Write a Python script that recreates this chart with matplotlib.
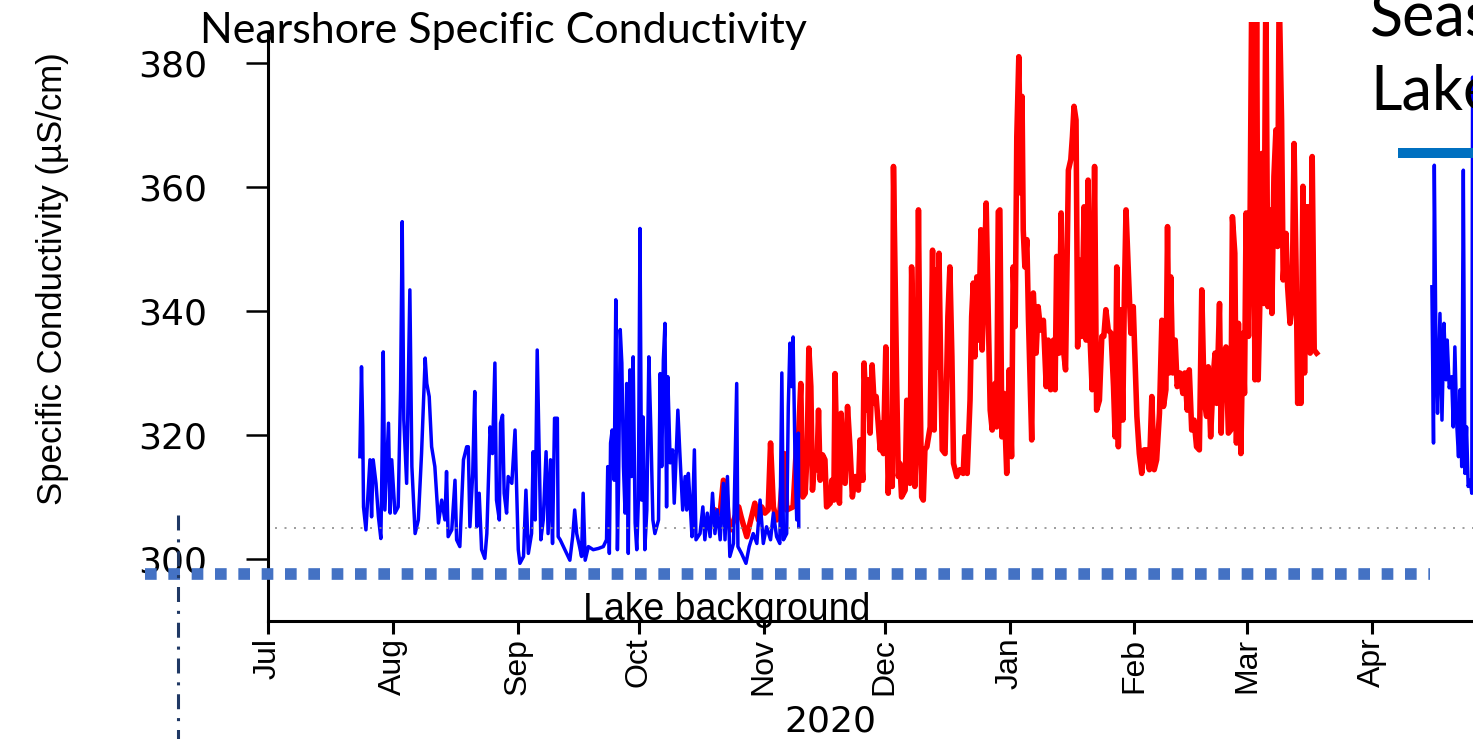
import matplotlib
matplotlib.use("Agg")
import matplotlib.pyplot as plt
import matplotlib.dates as mdates
import matplotlib.transforms as mtransforms
from matplotlib.lines import Line2D
import pandas as pd

# days since 1 Jul 2020, values in uS/cm
blue1_day = [22.8, 23.2, 23.5, 23.7, 24.3, 25.3, 25.7, 26.1, 26.8, 27.4,
             28.0, 28.2, 28.6, 29.0, 29.9, 30.3, 30.7, 31.5, 32.3, 32.9,
             33.3, 33.7, 34.4, 34.8, 35.2, 35.7, 36.5, 37.3, 38.1, 39.0,
             39.4, 40.0, 40.6, 41.4, 42.3, 43.1, 43.9, 44.3, 44.7, 45.6,
             46.4, 46.8, 47.6, 48.5, 49.3, 49.7, 50.1, 50.8, 51.3, 51.8,
             52.4, 53.0, 53.8, 54.3, 55.1, 55.7, 56.3, 56.7, 57.4, 57.7,
             58.2, 58.6, 59.2, 59.6, 60.5, 61.3, 62.1, 62.5, 63.4, 64.0,
             64.6, 65.4, 65.8, 66.3, 66.8, 67.2, 67.7, 68.3, 69.0, 69.5,
             70.1, 70.6, 71.1, 71.8, 72.0,
             72.5, 74.1, 74.9, 75.6, 76.1, 76.6, 77.3, 77.8, 78.2, 78.7,
             79.5, 80.7, 82.0, 83.2, 84.0, 84.3, 84.7, 85.0, 85.4, 85.9,
             86.3, 86.7, 87.0, 87.4, 87.8, 88.2, 88.6, 89.0, 89.4, 89.8,
             90.2, 90.6, 91.1, 91.5, 91.9, 92.3, 92.7, 93.1, 93.5, 94.0,
             94.5, 95.0, 95.5, 96.0, 96.9, 97.3, 97.7, 98.1, 98.5, 98.9,
             99.2, 99.8, 100.4, 100.8, 101.3, 101.7, 102.2, 102.9, 103.5, 103.9,
             104.3, 104.7, 105.2, 105.8, 106.2, 107.2, 107.9, 108.4, 109.0, 109.7,
             110.3, 110.9, 111.5, 112.2, 113.0, 113.4, 114.0, 114.6, 115.5, 116.3,
             116.6, 117.5, 118.6, 119.4, 120.4, 121.3, 122.1, 122.9, 123.7, 124.7,
             125.4, 126.2, 127.0, 127.5, 127.9, 128.7, 129.1, 129.5, 129.9, 130.3,
             130.8, 131.2, 131.6, 131.7]
blue1_val = [316.5, 331.0, 321.3, 308.4, 304.7, 316.0, 306.8, 316.0, 312.2, 306.8,
             303.3, 311.1, 333.4, 307.9, 321.9, 307.4, 316.0, 307.4, 308.4, 327.3,
             354.4, 322.4, 312.2, 327.8, 343.4, 314.9, 304.1, 306.3, 317.0, 332.4,
             328.3, 326.2, 318.1, 314.9, 305.8, 309.5, 306.3, 314.1, 303.6, 304.7,
             312.7, 303.1, 302.0, 316.0, 318.1, 318.1, 305.2, 313.8, 327.0, 305.2,
             310.6, 301.5, 300.1, 304.1, 321.3, 317.0, 331.6, 309.5, 306.3, 321.9,
             323.2, 310.6, 307.4, 313.3, 312.2, 320.8, 301.5, 299.3, 300.4, 311.1,
             300.9, 304.1, 317.3, 306.3, 333.7, 319.7, 303.1, 306.3, 317.3, 304.1,
             316.0, 302.5, 322.7, 322.7, 303.6,
             303.1, 300.9, 299.8, 303.6, 307.9, 304.1, 302.0, 300.4, 310.6, 299.8,
             302.0, 301.5, 301.7, 302.0, 303.1, 314.9, 300.9, 318.7, 320.8, 312.7,
             341.8, 301.5, 312.7, 337.0, 331.6, 314.9, 307.4, 328.3, 300.9, 330.5,
             313.3, 332.6, 305.8, 301.5, 309.5, 353.3, 309.5, 322.9, 301.5, 307.9,
             332.6, 320.8, 306.3, 304.1, 306.3, 329.9, 314.9, 332.1, 338.0, 308.4,
             329.4, 315.5, 317.6, 309.0, 317.0, 324.0, 317.0, 307.9, 313.3, 307.9,
             313.8, 309.5, 303.6, 317.6, 303.1, 304.1, 308.4, 303.1, 307.4, 303.6,
             310.6, 304.1, 307.9, 303.1, 312.2, 303.1, 313.3, 300.4, 302.5, 328.3,
             302.0, 300.9, 299.3, 302.0, 304.1, 302.5, 309.5, 302.5, 305.2, 303.1,
             307.4, 303.6, 302.5, 330.0, 303.1, 304.1, 324.5, 334.8, 327.8, 335.8,
             314.9, 306.3, 320.3, 305.2]

red_day = [110.9, 112.2, 113.0, 113.5, 114.2, 114.8, 115.6, 116.8, 117.4, 118.8,
           120.0, 120.8, 121.7, 122.5, 123.3, 124.1, 124.7, 125.4, 126.2, 127.0,
           128.1, 128.7, 130.3, 131.3,
           131.6, 132.2, 132.7, 133.3, 133.8, 134.2, 134.7, 135.1, 135.7, 136.2,
           136.6, 137.0, 137.6, 138.2, 138.6, 139.5, 139.9, 140.4, 140.7, 141.3,
           141.8, 142.2, 142.8, 143.2, 143.8, 144.4, 145.0, 145.7, 146.5, 146.9,
           147.6, 147.9, 148.4, 149.0, 149.4, 149.9, 150.4, 150.9, 151.4, 151.9,
           152.3, 152.7, 153.3, 153.9, 154.3, 154.9, 155.2, 155.6, 156.0, 156.4,
           156.8, 157.2, 158.1, 158.5, 158.9, 159.3, 159.7, 160.1, 160.5, 161.0,
           161.4, 161.8, 162.2, 162.6, 163.0, 163.5, 164.3, 164.9, 165.3, 165.8,
           166.2, 166.5, 166.9, 167.3, 168.0, 168.7, 169.2, 169.7, 170.1, 170.9,
           171.7, 172.5, 172.9, 173.5, 174.2, 174.6, 175.0, 175.4, 175.9, 176.3,
           176.9, 177.2, 177.7, 178.2, 178.7, 179.2, 179.7, 180.4, 180.8, 181.2,
           181.6, 182.1, 182.6, 183.3, 183.9, 184.5, 184.9, 185.4, 185.8, 186.3,
           186.8, 187.1, 187.4, 187.8, 188.3, 188.7, 189.5, 189.9, 190.6, 191.1,
           191.7, 192.4, 193.1, 193.6, 194.2, 194.9, 195.3, 195.7, 196.3, 196.8,
           197.3, 197.9, 198.6, 199.2, 199.6, 200.0, 200.5, 200.9, 201.3, 201.9,
           202.5, 203.0, 203.5, 204.0, 204.5, 205.1, 205.6, 206.3, 206.9, 207.4,
           207.9, 208.5, 209.2, 209.8, 210.2, 210.6, 211.0, 211.6, 212.1, 212.5,
           212.9, 213.5, 214.1, 214.7, 215.6, 216.2, 216.8, 217.4, 218.0, 218.7,
           219.3, 219.9, 220.5, 221.2, 221.8, 222.2, 222.8, 223.2, 223.6, 224.0,
           224.5, 225.1, 225.6, 226.3, 227.0, 227.5, 228.1, 228.6, 229.2, 229.8,
           230.4, 231.1, 231.7, 232.3, 232.9, 233.3, 233.9, 234.6, 235.0, 235.4,
           236.1, 236.5, 237.0, 237.7, 238.3, 238.9, 239.3, 239.9, 240.3, 240.8,
           241.4, 241.9, 242.3, 242.7, 243.3, 243.7, 244.1, 244.5, 244.9, 245.3,
           245.7, 246.2, 246.6, 247.1, 247.6, 248.1, 248.5, 249.1, 249.6, 250.1,
           250.5, 250.9, 251.5, 251.9, 252.6, 253.0, 253.6, 254.1, 254.6, 255.1,
           255.5, 255.9, 256.3, 256.8, 257.2, 257.6, 258.1, 258.6, 259.1, 259.6,
           260.2]
red_val = [307.9, 307.4, 312.7, 312.2, 306.3, 304.7, 306.3, 308.4, 306.8, 303.6,
           306.8, 309.0, 306.3, 308.4, 307.4, 307.9, 318.7, 308.4, 306.3, 307.4,
           317.0, 307.9, 308.4, 320.3,
           319.2, 328.3, 310.0, 310.6, 317.6, 334.0, 327.8, 311.1, 316.5, 314.4,
           324.0, 312.7, 316.8, 316.0, 308.4, 309.0, 312.7, 309.5, 329.9, 312.2,
           309.0, 323.5, 313.3, 312.2, 324.6, 318.1, 310.0, 313.3, 311.1, 319.2,
           312.7, 331.6, 324.0, 328.9, 320.3, 331.3, 325.1, 326.2, 321.9, 317.6,
           321.9, 317.0, 334.2, 310.6, 318.7, 311.7, 363.3, 345.5, 328.3, 313.3,
           315.4, 310.0, 311.1, 325.6, 316.0, 312.2, 347.1, 334.8, 311.7, 320.3,
           356.3, 328.3, 310.0, 309.5, 317.6, 318.1, 321.3, 349.8, 320.8, 346.6,
           331.0, 349.3, 331.6, 317.6, 317.0, 339.1, 347.1, 332.6, 315.4, 313.3,
           314.4, 313.8, 319.7, 313.8, 325.6, 339.1, 344.5, 332.6, 345.5, 335.3,
           353.1, 333.7, 344.5, 357.4, 340.2, 324.0, 320.8, 328.3, 321.3, 356.0,
           356.3, 319.7, 326.7, 313.8, 330.5, 316.5, 347.1, 337.5, 368.1, 381.0,
           359.0, 374.6, 353.1, 347.1, 351.5, 338.5, 319.2, 342.9, 333.2, 340.7,
           336.9, 338.5, 327.8, 335.3, 327.3, 335.3, 327.3, 348.8, 333.2, 355.8,
           334.2, 330.5, 362.7, 364.4, 368.1, 373.0, 370.8, 334.2, 348.2, 335.9,
           356.8, 335.3, 361.1, 335.3, 327.3, 363.3, 324.0, 325.6, 335.9, 335.9,
           340.2, 336.9, 336.4, 327.8, 319.7, 347.1, 318.1, 340.2, 322.4, 342.9,
           356.3, 346.1, 336.4, 340.7, 323.0, 317.0, 313.8, 317.6, 317.6, 314.4,
           326.2, 314.4, 316.0, 323.5, 338.5, 324.6, 327.3, 353.6, 330.0, 345.5,
           330.0, 335.3, 327.8, 330.0, 326.7, 330.0, 324.0, 330.5, 320.8, 322.4,
           318.1, 317.6, 343.4, 325.6, 323.0, 331.0, 319.7, 330.0, 333.2, 325.1,
           341.2, 320.3, 332.6, 334.2, 320.3, 320.8, 355.2, 349.3, 318.7, 338.0,
           317.0, 336.4, 326.7, 355.8, 335.9, 355.8, 392.0, 368.1, 328.9, 392.0,
           328.9, 343.9, 365.4, 341.2, 392.0, 340.7, 356.3, 339.6, 361.7, 369.2,
           350.4, 392.0, 370.8, 345.0, 352.5, 343.9, 338.0, 340.7, 367.0, 347.1,
           325.1, 335.9, 325.1, 360.1, 330.0, 356.8, 356.8, 333.2, 364.9, 333.7,
           333.2]

blue2_day = [288.8, 289.2, 289.4, 289.8, 290.2, 290.8, 291.3, 291.8, 292.3, 292.6,
             293.1, 293.7, 294.1, 294.5, 295.0, 295.4, 295.8, 296.2, 296.6, 297.0,
             297.4, 297.8, 298.3, 298.7, 298.9, 299.3]
blue2_val = [343.9, 318.7, 363.5, 334.2, 323.5, 339.6, 322.4, 338.0, 328.9, 335.3,
             327.6, 329.4, 321.3, 334.2, 321.3, 316.5, 327.3, 314.9, 362.7, 313.8,
             321.3, 311.7, 312.7, 310.6, 377.7, 330.0]

lake_background = 297.6
reference_level = 305.0
yticks = [300, 320, 340, 360, 380]

start = pd.Timestamp("2020-07-01")
def to_dates(days):
    return start + pd.to_timedelta(days, unit="D")

W, H = 1473, 739
fig = plt.figure(figsize=(W / 100, H / 100), dpi=100)
ax = fig.add_axes([268 / W, 118 / H, 1205 / W, 599 / H])

narrow = ["Liberation Sans Narrow", "Liberation Sans", "DejaVu Sans"]

ax.plot(to_dates(red_day), red_val, color="#ff0000", lw=4.0)
ax.plot(to_dates(blue1_day), blue1_val, color="#0000ff", lw=2.5)
ax.plot(to_dates(blue2_day), blue2_val, color="#0000ff", lw=2.5)

ax.axhline(reference_level, xmin=0.006, color="#8c8c8c", lw=1.2, ls=(0, (1.2, 4.5)))

blend = mtransforms.blended_transform_factory(ax.transAxes, ax.transData)
ax.plot([-0.102, 0.964], [lake_background, lake_background], transform=blend,
        clip_on=False, color="#4472c4", lw=8.4, ls=(0, (1, 1)),
        dash_capstyle="butt", zorder=5)

ax.set_xlim(start, start + pd.Timedelta(days=299.0))
ax.set_ylim(290, 386.6)

ax.xaxis.set_major_locator(mdates.MonthLocator())
ax.xaxis.set_major_formatter(mdates.DateFormatter("%b"))
ax.set_yticks(yticks)

for s in ["top", "right"]:
    ax.spines[s].set_visible(False)
for s in ["left", "bottom"]:
    ax.spines[s].set_linewidth(2.2)
ax.spines["left"].set_bounds(290, 384.8)

ax.tick_params(axis="y", direction="out", length=16, width=1.8, pad=28,
               labelsize=26, labelfontfamily="DejaVu Sans")
ax.tick_params(axis="x", direction="out", length=9, width=2.2, pad=3,
               labelsize=23, labelrotation=90, labelfontfamily=narrow)

ax.set_ylabel("Specific Conductivity (\u00b5S/cm)", fontsize=25,
              family=narrow, va="center")
ax.yaxis.set_label_coords(-0.179, 0.571)

fig.text(200 / W, 1 - 43 / H, "Nearshore Specific Conductivity",
         fontsize=31, family="Lato", va="baseline")
fig.text(583 / W, 1 - 620 / H, "Lake background", fontsize=27,
         family="Liberation Sans", va="baseline")
fig.text(830 / W, 1 - 721 / H, "2020", fontsize=26, family="DejaVu Sans",
         ha="center", va="center")
fig.text(1370 / W, 1 - 35 / H, "Seasonal", fontsize=44, family="Lato",
         va="baseline")
fig.text(1370 / W, 1 - 110 / H, "Lake", fontsize=44, family="Lato",
         va="baseline")

fig.add_artist(Line2D([1403 / W, 1.0], [1 - 153 / H, 1 - 153 / H],
                      color="#0070c0", lw=7.2))
fig.add_artist(Line2D([178 / W, 178 / W], [1 - 515 / H, 0.0],
                      color="#1f3864", lw=2.2, ls=(0, (4.9, 2.9, 1, 2.9))))

fig.savefig("out.png", dpi=100)
